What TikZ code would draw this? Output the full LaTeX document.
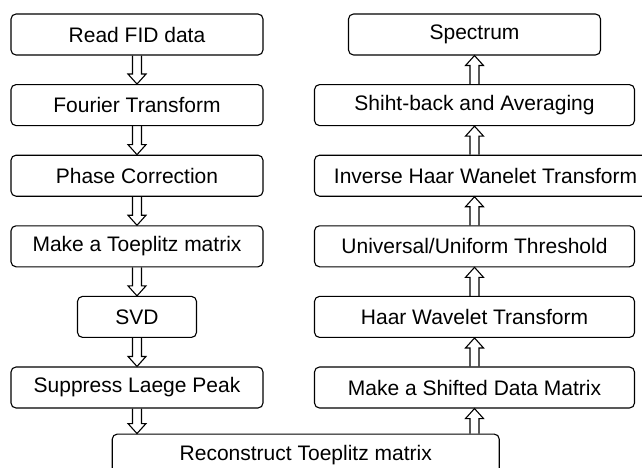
\documentclass[tikz,border=0pt]{standalone}
\usepackage{fontspec}
\setmainfont{Liberation Sans}
\usetikzlibrary{calc,positioning}

\begin{document}
\begin{tikzpicture}[node distance=28.5pt, auto,
    block/.style={draw, rounded corners=5pt, line width=1.1pt, minimum width=252pt, minimum height=41pt, inner sep=0pt, font=\fontsize{21}{25}\selectfont},
    wide/.style={block, minimum width=320pt},
    flow/.style={line width=1.1pt, to path={let \p1=(\tikztostart), \p2=(\tikztotarget), \n1={ifthenelse(\y2>\y1,1,-1)} in
        (\x1-4.5pt,\y1) -- (\x1-4.5pt,\y2-\n1*10pt) -- (\x1-9pt,\y2-\n1*10pt) -- (\x1,\y2)
        -- (\x1+9pt,\y2-\n1*10pt) -- (\x1+4.5pt,\y2-\n1*10pt) -- (\x1+4.5pt,\y1)}}]
    	\useasboundingbox (0,0) rectangle (642pt,-468pt);
    	
    	\node[block] (read) at (137pt,-34.5pt) {Read FID data};
    	\node[block, below=of read] (fourier) {Fourier Transform};
    	\node[block, below=of fourier] (phase) {Phase Correction};
    	\node[block, below=of phase] (toeplitz) {Make a Toeplitz matrix};
    	\node[block, below=of toeplitz, minimum width=119pt] (svd) {SVD};
    	\node[block, below=of svd] (suppress) {Suppress Laege Peak};
    	
    	\node[block] (spectrum) at (474.5pt,-34.5pt) {Spectrum};
    	\node[wide, below=of spectrum] (shiftback) {Shiht-back and Averaging};
    	\node[wide, below=of shiftback.south west, anchor=north west, minimum width=342pt] (inverse) {Inverse Haar Wanelet Transform};
    	\node[wide, below=of shiftback |- inverse.south] (threshold) {Universal/Uniform Threshold};
    	\node[wide, below=of threshold] (haar) {Haar Wavelet Transform};
    	\node[wide, below=of haar] (shifted) {Make a Shifted Data Matrix};
    	
    	\coordinate (mid) at ($(suppress.south)!0.5!(shifted.south)$);
    	\node[block, below=25pt of mid, minimum width=387pt] (reconstruct) {Reconstruct Toeplitz matrix};
    	
    	\path [flow]
    		(read.south) edge (fourier.north)
    		(fourier.south) edge (phase.north)
    		(phase.south) edge (toeplitz.north)
    		(toeplitz.south) edge (svd.north)
    		(svd.south) edge (suppress.north)
    		(suppress.south) edge (suppress.south |- reconstruct.north)
    		(reconstruct.north -| shifted.south) edge (shifted.south)
    		(shifted.north) edge (haar.south)
    		(haar.north) edge (threshold.south)
    		(threshold.north) edge (threshold.north |- inverse.south)
    		(threshold.north |- inverse.north) edge (shiftback.south)
    		(shiftback.north) edge (spectrum.south)
    	;
    \end{tikzpicture}
\end{document}
